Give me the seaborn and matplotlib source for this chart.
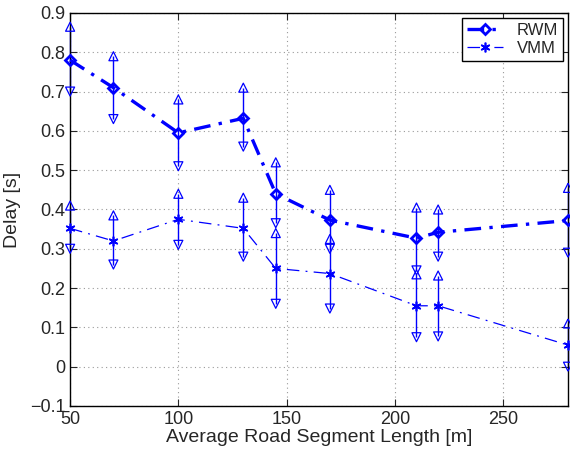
import matplotlib
matplotlib.use("Agg")
import matplotlib.pyplot as plt
import seaborn as sns
import pandas as pd
import numpy as np

x_len = [50, 70, 100, 130, 145, 170, 210, 220, 280]
rwm_mean = [0.78, 0.71, 0.595, 0.632, 0.44, 0.373, 0.327, 0.342, 0.372]
rwm_upper = [0.865, 0.79, 0.68, 0.71, 0.52, 0.45, 0.405, 0.40, 0.455]
rwm_lower = [0.70, 0.63, 0.51, 0.56, 0.365, 0.30, 0.245, 0.28, 0.29]
vmm_mean = [0.352, 0.32, 0.375, 0.352, 0.25, 0.237, 0.155, 0.155, 0.055]
vmm_upper = [0.41, 0.385, 0.44, 0.43, 0.34, 0.325, 0.235, 0.232, 0.11]
vmm_lower = [0.30, 0.26, 0.31, 0.28, 0.16, 0.148, 0.075, 0.077, 0.0]

sns.set_style("ticks")
plt.rcParams['font.family'] = ['Liberation Sans', 'DejaVu Sans']

df = pd.DataFrame({
    "x": x_len * 2,
    "y": rwm_mean + vmm_mean,
    "series": ["RWM"] * len(x_len) + ["VMM"] * len(x_len),
})

fig = plt.figure(figsize=(5.7, 4.57), dpi=100)
ax = fig.add_axes([0.123, 0.1116, 0.8735, 0.86])

blue = "#0000ff"

# error bars
for lo, hi in [(rwm_lower, rwm_upper), (vmm_lower, vmm_upper)]:
    ax.vlines(x_len, lo, hi, color=blue, lw=1.0, zorder=2, clip_on=False)
    ax.scatter(x_len, hi, marker="^", s=42, facecolors="none", edgecolors=blue,
               linewidths=0.9, zorder=3, clip_on=False)
    ax.scatter(x_len, lo, marker="v", s=42, facecolors="none", edgecolors=blue,
               linewidths=0.9, zorder=3, clip_on=False)

sns.lineplot(data=df[df.series == "RWM"], x="x", y="y", ax=ax, color=blue, lw=2.4,
             dashes=False, marker="D", markersize=5.5, markerfacecolor="none",
             markeredgecolor=blue, markeredgewidth=2, label="RWM", zorder=4, clip_on=False)
sns.lineplot(data=df[df.series == "VMM"], x="x", y="y", ax=ax, color=blue, lw=0.9,
             dashes=False, marker=(6, 2, 0), markersize=7, markerfacecolor=blue,
             markeredgecolor=blue, markeredgewidth=1.2, label="VMM", zorder=4, clip_on=False)
lines = ax.get_lines()
lines[-2].set_dashes([5, 2.5, 1, 2.5])
lines[-1].set_dashes([10, 5, 1.5, 5])

ax.set_xlim(50, 280)
ax.set_ylim(-0.1, 0.9)
ax.set_xticks([50, 100, 150, 200, 250])
ax.set_yticks(np.round(np.arange(-0.1, 0.91, 0.1), 1))
ax.set_yticklabels(["\u22120.1", "0", "0.1", "0.2", "0.3", "0.4", "0.5", "0.6", "0.7", "0.8", "0.9"])
ax.grid(True, linestyle=(0, (1, 3)), color="#999999", lw=0.8)
ax.tick_params(direction="in", labelsize=13, length=5, top=True, right=True, width=0.8)
for s in ax.spines.values():
    s.set_linewidth(1.0)
    s.set_color("black")
ax.set_xlabel("Average Road Segment Length [m]", fontsize=14, labelpad=1)
ax.set_ylabel("Delay [s]", fontsize=14, labelpad=6)

leg = ax.legend(loc="upper right", fontsize=12, frameon=True, fancybox=False,
                borderaxespad=0.3, handlelength=2.2, borderpad=0.3, labelspacing=0.2)
leg.get_frame().set_edgecolor("black")
leg.get_frame().set_linewidth(1.0)
leg.get_frame().set_alpha(1)

fig.savefig("out.png", dpi=100)
